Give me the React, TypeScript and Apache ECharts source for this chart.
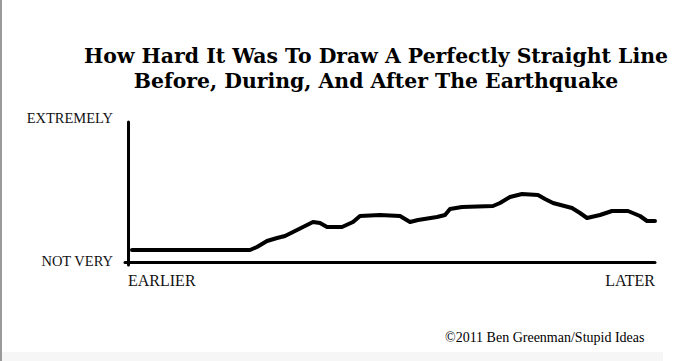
import React, { useEffect, useRef } from "react";
import * as echarts from "echarts";

const titleLines = [
  "How Hard It Was To Draw A Perfectly Straight Line",
  "Before, During, And After The Earthquake",
];
const yLabels = ["NOT VERY", "EXTREMELY"];
const xLabels = ["EARLIER", "LATER"];
const credit = "©2011 Ben Greenman/Stupid Ideas";

// time (arbitrary units) and difficulty (arbitrary units)
const times = [7, 125, 132, 142, 152, 160, 168, 178, 188, 195, 202, 217, 228, 235, 255, 275, 285, 293, 312, 320, 325, 337, 368, 375, 385, 397, 413, 420, 428, 447, 455, 462, 475, 487, 503, 515, 522, 530];
const difficulty = [15, 15, 18, 24, 27, 29, 33, 38, 43, 42, 38, 38, 43, 49, 50, 49, 43, 45, 48, 50, 56, 58, 59, 62, 68, 71, 70, 66, 62, 57, 52, 47, 50, 54, 54, 49, 44, 44];

export default function App() {
  const ref = useRef<HTMLDivElement>(null);
  useEffect(() => {
    document.body.style.margin = "0";
    const chart = echarts.init(ref.current!, null, { renderer: "svg" });
    const data = times.map((t, i) => [t, difficulty[i]]);
    chart.setOption({
      animation: false,
      backgroundColor: "#fff",
      title: {
        text: titleLines.join("\n"),
        left: 371,
        top: 38,
        textAlign: "center",
        textStyle: {
          fontFamily: "DejaVu Serif",
          fontWeight: "bold",
          fontSize: 20.4,
          lineHeight: 25,
          color: "#000",
        },
      },
      grid: { left: 125, right: 43, top: 122, bottom: 96 },
      xAxis: {
        type: "value",
        min: 0,
        max: 530,
        interval: 530,
        offset: -3,
        axisLine: { lineStyle: { color: "#000", width: 3 } },
        axisTick: { show: false },
        splitLine: { show: false },
        axisLabel: {
          margin: 10,
          fontFamily: "Liberation Serif",
          fontSize: 16,
          color: "#111",
          alignMinLabel: "left",
          alignMaxLabel: "right",
          formatter: (v: number) => (v === 0 ? "{l|" + xLabels[0] + "}" : "{r|" + xLabels[1] + "}"),
          rich: {
            l: { fontFamily: "Liberation Serif", fontSize: 16, color: "#111", padding: [0, 0, 0, 3] },
            r: { fontFamily: "Liberation Serif", fontSize: 16, color: "#111" },
          },
        },
      },
      yAxis: {
        type: "value",
        min: 0,
        max: 143,
        interval: 143,
        offset: -3,
        axisLine: { show: true, lineStyle: { color: "#000", width: 3 } },
        axisTick: { show: false },
        splitLine: { show: false },
        axisLabel: {
          margin: 15,
          fontFamily: "Liberation Serif",
          fontSize: 14.5,
          color: "#111",
          verticalAlign: "bottom",
          lineHeight: 9,
          formatter: (v: number) => (v === 0 ? yLabels[0] : yLabels[1]),
        },
      },
      series: [
        {
          type: "line",
          data,
          symbol: "none",
          lineStyle: { color: "#000", width: 4, cap: "round", join: "round" },
        },
      ],
      graphic: [
        { type: "rect", shape: { x: 0, y: 0, width: 2, height: 361 }, style: { fill: "#9a9a9a" } },
        { type: "rect", shape: { x: 2, y: 352, width: 661, height: 9 }, style: { fill: "#f6f6f6" } },
        {
          type: "text",
          x: 445,
          y: 337,
          style: {
            text: credit,
            fontFamily: "Liberation Serif",
            fontSize: 14,
            fill: "#000",
            verticalAlign: "middle",
          },
        },
      ],
    });
    return () => chart.dispose();
  }, []);
  return <div ref={ref} style={{ width: 698, height: 361 }} />;
}
